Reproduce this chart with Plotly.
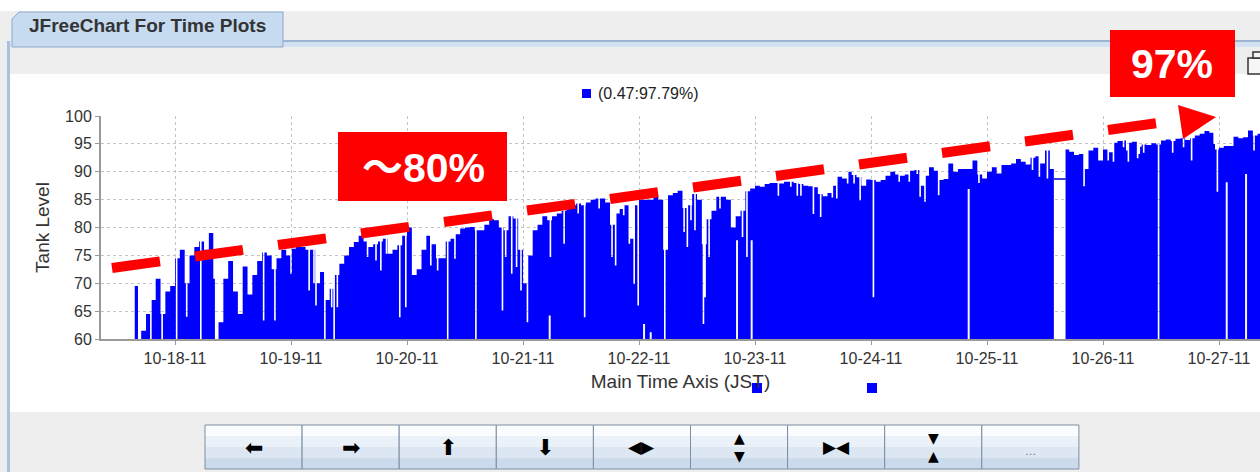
import numpy as np
import pandas as pd
import plotly.graph_objects as go

# ---------------- data ----------------
ORIGIN = "2011-10-18 00:00"          # hour 0
FIRST_HOUR = -9                       # level[0] is 2011-10-17 15:00
level = [
    50, 50, 61.5, 64.5, 67, 70.8, 64.5, 68.5, 69.5,
    74.5, 76, 70, 75, 76.5, 77.5, 76, 79, 50, 63,
    70.8, 74, 68.5, 64.5, 73, 68, 71.5, 74, 75.5, 75,
    72.5, 74.5, 76, 75, 76.2, 76.5, 76.5, 76, 76, 70,
    72, 67, 69, 71.5, 73.5, 75, 76.5, 77.4, 78.5, 77.5,
    76.5, 77, 77.5, 78, 75.3, 76, 76.8, 78.5, 80, 71.5,
    72.5, 76, 78.5, 77, 74.5, 74.5, 77.5, 78, 78.8, 79.8,
    80, 80.1, 79.5, 79.5, 80.5, 81.5, 81.3, 80, 79.5, 82,
    81.6, 76, 70, 75, 79.5, 80.5, 82, 81.3, 82, 82.5,
    83, 83.8, 84, 84.3, 84, 84.5, 85, 85.2, 85.2, 84.5,
    80.5, 82.5, 83.3, 84, 78, 84, 85, 85, 85, 85.5,
    85, 76, 85.8, 86.2, 86.6, 83.5, 84, 86, 85, 77,
    81.5, 83, 85.5, 85.5, 85, 80, 82, 83, 86.5, 87,
    87.5, 87.3, 87.8, 88, 88, 87.9, 88.2, 88.2, 88, 87.8,
    87.5, 87.4, 87.2, 86, 85.6, 86.2, 87.5, 89.1, 88.8, 90,
    89.4, 89, 87.5, 88.6, 88.5, 88.2, 88.5, 89.3, 90, 89.5,
    89.3, 89.5, 90.2, 90.3, 87.5, 89.3, 90.8, 90.2, 88.5, 88.7,
    91.5, 90, 90.5, 90.5, 90.5, 92, 89.5, 88.8, 90, 90.8,
    89.7, 91.2, 91.2, 91.5, 92.3, 91.8, 91.3, 92.5, 92.8, 91.5,
    93.8, 90.5, 90, 90, 94, 93.6, 93, 93.2, 90.5, 93.8,
    94.3, 92, 94, 93.5, 95.2, 95.5, 95.6, 95.2, 95.4, 94.5,
    94.9, 94.8, 95.1, 94.9, 95.6, 95.8, 95.5, 95.9, 96, 95.7,
    96, 96.5, 96.8, 97.3, 97, 94, 94.3, 94.6, 94.6, 96.3,
    96, 96.2, 97.4, 96.5, 96.8,
]
# short (20 min) readings that differ from the hourly level: hours since ORIGIN, value
dip_h = [-8.3, -7.97, -5.17, -2.83, 0.14, 2.28, 5.17, 7.9, 18.14, 20.48, 23.8,
         27.59, 28.62, 28.97, 30.83, 32.21, 32.76, 33.45, 39.66, 41.38, 42.42,
         43.59, 46.35, 47.59, 52.76, 54.14, 56.21, 57.73, 62.07, 67.59, 68.28,
         69.52, 70.49, 71.38, 72.77, 77.52, 80.35, 83.24, 84.62, 87.59, 90.21,
         91.04, 92.63, 93.8, 94.83, 95.66, 101.18, 105.17, 105.86, 106.55,
         107.38, 109.18, 109.53, 110.35, 112.62, 117.24, 118.14, 124.69, 127.24,
         128.62, 129.31, 131.93, 133.45, 135.86, 136.76, 138.97, 140.35, 141.59,
         144.35, 149.66, 151.72, 153.45, 154.0, 154.97, 157.8, 166.15, 177.26,
         178.64, 180.35, 187.93, 192.9, 194.0, 196.08, 196.77, 197.11, 198.97,
         199.31, 200.21, 203.32, 206.22, 208.5, 210.15, 214.84, 215.53, 223.1]
dip_v = [69.5, 69.5, 55, 55, 55, 64, 55, 70.8, 63.3, 63.3, 71.7,
         68.7, 70, 66, 55, 65.7, 55, 65.7, 74.7, 74.1, 72.3,
         75.3, 63.9, 65.7, 73.2, 72.3, 55, 74.4, 55, 65.1, 74.7,
         71.7, 72.9, 68.7, 63, 74.7, 77.1, 82.5, 63.9, 83.4, 74.7,
         73.2, 82.2, 77.1, 69.9, 66, 55, 79.2, 76.5, 81.3,
         79.5, 62.7, 67.5, 74.7, 83.4, 78.3, 74.7, 85.7, 87.3,
         85.7, 85.7, 82.4, 81.9, 85.4, 85.2, 87.9, 87.9, 84.9,
         67.5, 88.2, 88.2, 89.6, 85.5, 84.6, 85.8, 88, 90.3,
         89.1, 88.8, 87.4, 92, 91.8, 94.4, 93.8, 91.8, 92.4,
         93.2, 93.4, 55, 93.4, 94.4, 92, 95, 86.4, 93.8]
# thin white gaps seen at the foot of the bars: hours since ORIGIN, top of gap
notch_h = [77.52, 97.04, 98.42, 116.28, 119.31, 164.21, 217.6, 221.6]
notch_top = [64.2, 62.7, 61.2, 77.7, 77.7, 86.9, 88.1, 89.6]
# missing stretch on 10-25 with its outline level
gap_h = [181.87, 184.29]
gap_level = 88.7
legend_label = "(0.47:97.79%)"
y_ticks = [60, 65, 70, 75, 80, 85, 90, 95, 100]

# ---------------- build step series ----------------
SUB = 12
origin = pd.Timestamp(ORIGIN)
vals = np.repeat(np.array(level, float), SUB)
def idx(h):
    return int(round((h - FIRST_HOUR) * SUB))
for h, v in zip(dip_h, dip_v):
    i = idx(h)
    vals[i:i + 4] = v
vals[idx(gap_h[0]):idx(gap_h[1])] = 0
n = len(vals)
times = origin + pd.to_timedelta(np.arange(n + 1) / SUB + FIRST_HOUR, unit="h")
vals = np.append(vals, vals[-1])

nx, ny = [], []
for h, top in zip(notch_h, notch_top):
    t = origin + pd.Timedelta(hours=h)
    nx += [t, t, None]
    ny += [0, top, None]

fig = go.Figure()
fig.add_trace(go.Scatter(x=times, y=vals, mode="lines",
                         line=dict(width=0, color="#0000FF", shape="hv"),
                         fill="tozeroy", fillcolor="#0000FF",
                         showlegend=False, hoverinfo="skip"))
fig.add_trace(go.Scatter(x=nx, y=ny, mode="lines",
                         line=dict(width=2, color="#F4F6FC"),
                         showlegend=False, hoverinfo="skip"))
fig.add_trace(go.Scatter(x=[origin + pd.Timedelta(hours=gap_h[0]), origin + pd.Timedelta(hours=gap_h[1])],
                         y=[gap_level, gap_level], mode="lines",
                         line=dict(width=1.5, color="#0000CC"),
                         showlegend=False, hoverinfo="skip"))

# ---------------- page decoration (pixel helpers) ----------------
L, R, T, B = 101, 1260, 116, 339
def X(px):
    return (px - L) / (R - L)
def Y(py):
    return (B - py) / (B - T)

shapes = []
def rect(x0, y0, x1, y1, fill, line=None, lw=0, layer="below"):
    shapes.append(dict(type="rect", xref="paper", yref="paper",
                       x0=X(x0), x1=X(x1), y0=Y(y1), y1=Y(y0),
                       fillcolor=fill, line=dict(color=line or fill, width=lw), layer=layer))

rect(0, 0, 1260, 11, "#FFFFFF")
rect(10, 41, 1260, 47, "#D3E2F3")
shapes.append(dict(type="path", xref="paper", yref="paper",
                   path=f"M {X(12)},{Y(47)} L {X(12)},{Y(19)} L {X(19)},{Y(12)} L {X(283)},{Y(12)} L {X(283)},{Y(47)} Z",
                   fillcolor="#C6DAF0", line=dict(color="#8FA8CA", width=1), layer="below"))
shapes.append(dict(type="line", xref="paper", yref="paper", x0=X(283), x1=X(1260), y0=Y(41), y1=Y(41),
                   line=dict(color="#9CB3D1", width=2), layer="below"))
rect(7, 41, 10, 472, "#A9C1E1")
rect(10, 74, 1260, 412, "#FFFFFF")

# buttons
bx0, bw = 205, 97.1
bands = ["#FAFCFE", "#EAF1F8", "#DCE7F3", "#CCDBEC"]
for i in range(9):
    x0 = bx0 + i * bw
    for k, c in enumerate(bands):
        rect(x0, 425 + k * 11, x0 + bw, 425 + (k + 1) * 11, c)
    rect(x0, 425, x0 + bw, 469, "rgba(0,0,0,0)", "#7D8EA2", 1)

# legend square + stray squares + window icon
rect(582, 89, 591, 98, "#0000FF")
rect(752, 383, 762, 393, "#0000FF", layer="above")
rect(867, 383, 877, 393, "#0000FF", layer="above")
rect(1248, 58, 1262, 74, "#F6F6F6", "#333333", 1.5)
rect(1253, 52, 1262, 58, "#F6F6F6", "#333333", 1.5)

# red dashed trend arrow
sx, sy, slope = 112, 268, -0.1386
for k in range(13):
    a = sx + 83 * k
    b = a + 48
    shapes.append(dict(type="line", xref="paper", yref="paper",
                       x0=X(a), y0=Y(sy + slope * (a - sx)), x1=X(b), y1=Y(sy + slope * (b - sx)),
                       line=dict(color="#FF0000", width=10), layer="above"))
shapes.append(dict(type="path", xref="paper", yref="paper",
                   path=f"M {X(1178)},{Y(105)} L {X(1216)},{Y(117)} L {X(1183)},{Y(139)} Z",
                   fillcolor="#FF0000", line=dict(color="#FF0000", width=0), layer="above"))
rect(338, 132, 507, 201, "#FF0000", layer="above")
rect(1110, 30, 1235, 97, "#FF0000", layer="above")

annotations = []
def text(px, py, s, size, color="#333333", family="Liberation Sans", xanchor="center"):
    annotations.append(dict(xref="paper", yref="paper", x=X(px), y=Y(py), text=s,
                            showarrow=False, xanchor=xanchor, yanchor="middle",
                            font=dict(size=size, color=color, family=family)))

text(147, 26, "<b>JFreeChart For Time Plots</b>", 19, "#333333")
text(596, 94, legend_label, 16, "#222222", xanchor="left")
text(423, 168, "<b>～80%</b>", 41, "#FFFFFF", "Liberation Sans, Noto Sans CJK JP")
text(1172, 64, "<b>97%</b>", 41, "#FFFFFF")

icons = ["⬅", "➡", "⬆", "⬇", "◀▶", "▲<br>▼", "▶◀", "▼<br>▲", "…"]
for i, s in enumerate(icons):
    cx = bx0 + (i + 0.5) * bw
    if "<br>" in s:
        text(cx, 447, s, 14, "#000000", "DejaVu Sans")
    elif s == "…":
        text(cx, 451, s, 11, "#6E7C8C", "DejaVu Sans")
    elif len(s) == 2:
        text(cx, 447, s, 17, "#000000", "DejaVu Sans")
    else:
        text(cx, 447, s, 22, "#000000", "DejaVu Sans")

tickfont = dict(family="Liberation Sans", size=16, color="#333333")
fig.update_layout(
    width=1260, height=472,
    margin=dict(l=L, r=1260 - R, t=T, b=472 - B),
    paper_bgcolor="#EEEEEE", plot_bgcolor="#FFFFFF",
    shapes=shapes, annotations=annotations,
    showlegend=False,
    xaxis=dict(type="date", range=["2011-10-17 08:41", "2011-10-27 08:29"],
               tick0="2011-10-18", dtick=86400000, tickformat="%m-%d-%y",
               showgrid=True, gridcolor="#C4C4C4", griddash="3px,3px", gridwidth=1,
               showline=True, linecolor="#9A9A9A", linewidth=2,
               ticks="outside", ticklen=4, tickcolor="#9A9A9A",
               tickfont=tickfont, zeroline=False,
               title=dict(text="Main Time Axis (JST)", standoff=8,
                          font=dict(family="Liberation Sans", size=19, color="#333333"))),
    yaxis=dict(range=[60, 100], tickvals=y_ticks,
               showgrid=True, gridcolor="#C4C4C4", griddash="3px,3px", gridwidth=1,
               showline=True, linecolor="#9A9A9A", linewidth=2,
               ticks="outside", ticklen=4, tickcolor="#9A9A9A",
               tickfont=tickfont, zeroline=False,
               title=dict(text="Tank Level", standoff=10,
                          font=dict(family="Liberation Sans", size=19, color="#333333"))),
)
fig.write_html("out.html", config={"displayModeBar": False},
               post_script="document.body.style.margin='0';document.body.style.overflow='hidden';")
